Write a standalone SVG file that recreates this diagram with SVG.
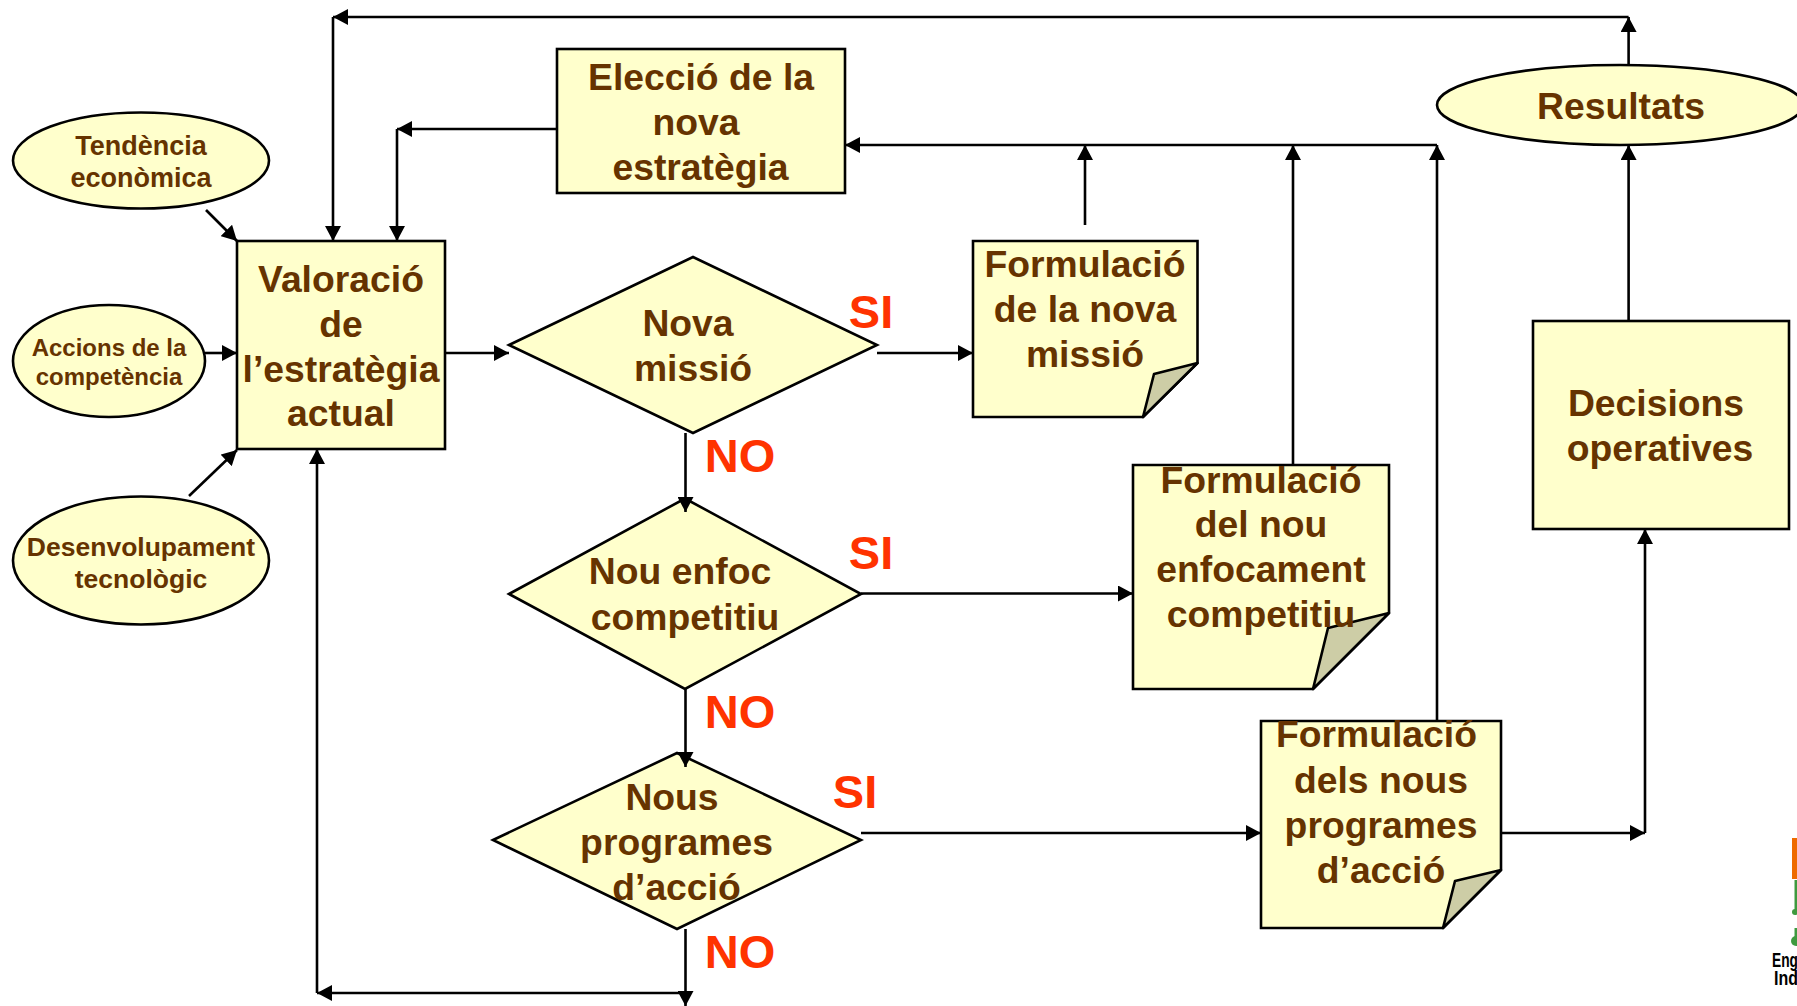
<svg xmlns="http://www.w3.org/2000/svg" width="1797" height="1006" viewBox="0 0 1797 1006">
<style>
.s{fill:#ffffcc;stroke:#000;stroke-width:2.6}
.f{fill:#cdcda6;stroke:#000;stroke-width:2.6;stroke-linejoin:round}
.c path{fill:none;stroke:#000;stroke-width:2.6;marker-end:url(#a)}
text{font-family:"Liberation Sans",Arial,sans-serif;font-weight:700;text-anchor:middle;fill:#663300}
.m{font-size:37.300px}.t{font-size:27px}.l{font-size:47px;fill:#ff3300}
</style>
<defs><marker id="a" markerUnits="userSpaceOnUse" markerWidth="16" markerHeight="16" refX="15" refY="8" orient="auto"><path d="M0 0L15 8L0 16Z" fill="#000"/></marker></defs>
<rect width="1797" height="1006" fill="#fff"/>
<g id="tendencia"><ellipse class="s" cx="141" cy="160.500" rx="128" ry="48"/><text class="t"><tspan x="141" y="155">Tendència</tspan><tspan x="141" y="187">econòmica</tspan></text></g>
<g id="accions"><ellipse class="s" cx="109" cy="361" rx="96" ry="56"/><text style="font-size:24px"><tspan x="109" y="356">Accions de la</tspan><tspan x="109" y="384.500">competència</tspan></text></g>
<g id="desenvolupament"><ellipse class="s" cx="141" cy="560.500" rx="128" ry="64"/><text style="font-size:26.500px"><tspan x="141" y="556">Desenvolupament</tspan><tspan x="141" y="588">tecnològic</tspan></text></g>
<g id="valoracio"><rect class="s" x="237" y="241" width="208" height="208"/><text class="m"><tspan x="341" y="292">Valoració</tspan><tspan x="341" y="336.500">de</tspan><tspan x="341" y="381.500">l’estratègia</tspan><tspan x="341" y="426">actual</tspan></text></g>
<g id="eleccio"><rect class="s" x="557" y="49" width="288" height="144"/><text class="m"><tspan x="701" y="90">Elecció de la</tspan><tspan x="696" y="135">nova</tspan><tspan x="700.500" y="180">estratègia</tspan></text></g>
<g id="resultats"><ellipse class="s" cx="1620" cy="105" rx="183" ry="40"/><text class="m" x="1621" y="119">Resultats</text></g>
<g id="nova-missio"><path class="s" d="M509 345L693 257L877 345L693 433Z"/><text class="m"><tspan x="688" y="336">Nova</tspan><tspan x="693" y="381">missió</tspan></text></g>
<g id="nou-enfoc"><path class="s" d="M509 594L685 498.500L861 594L685 689Z"/><text class="m"><tspan x="680" y="584">Nou enfoc</tspan><tspan x="685" y="629.500">competitiu</tspan></text></g>
<g id="nous-programes"><path class="s" d="M493 840L677 753L861 840L677 929Z"/><text class="m"><tspan x="672" y="810">Nous</tspan><tspan x="676.500" y="855">programes</tspan><tspan x="676.500" y="900">d’acció</tspan></text></g>
<g id="formulacio-missio"><path class="s" d="M973 241H1197.500V363L1143 417H973Z"/><path class="f" d="M1143 417L1154 374L1197.500 363Z"/><text class="m"><tspan x="1085" y="277">Formulació</tspan><tspan x="1085" y="322">de la nova</tspan><tspan x="1085" y="367">missió</tspan></text></g>
<g id="formulacio-enfocament"><path class="s" d="M1133 465H1389V613L1313 689H1133Z"/><path class="f" d="M1313 689L1328 628L1389 613Z"/><text class="m"><tspan x="1261" y="492.500">Formulació</tspan><tspan x="1261" y="537">del nou</tspan><tspan x="1261" y="581.500">enfocament</tspan><tspan x="1261" y="627">competitiu</tspan></text></g>
<g id="formulacio-programes"><path class="s" d="M1261 721H1501V870L1443 928H1261Z"/><path class="f" d="M1443 928L1455 881L1501 870Z"/><text class="m"><tspan x="1376.500" y="747">Formulació</tspan><tspan x="1381" y="793">dels nous</tspan><tspan x="1381" y="838">programes</tspan><tspan x="1381" y="883">d’acció</tspan></text></g>
<g id="decisions"><rect class="s" x="1533" y="321" width="256" height="208"/><text class="m"><tspan x="1656" y="416">Decisions</tspan><tspan x="1660" y="461">operatives</tspan></text></g>
<g id="connectors" class="c">
<path d="M1628.6 64V17"/><path d="M1628.6 17H333"/><path d="M333 17V241"/>
<path d="M557 129H397"/><path d="M397 129V241"/>
<path d="M1437 145H845"/><path d="M1085 225V145"/><path d="M1293 465V145"/><path d="M1437 721V145"/>
<path d="M1628.6 321V145"/>
<path d="M1501 833H1645"/><path d="M1645 833V529"/>
<path d="M877 353H973"/><path d="M861 593.500H1133"/><path d="M861 833H1261"/>
<path d="M445 353H509"/>
<path d="M685.500 433V512"/><path d="M685.500 689V767"/><path d="M685.500 929V1006"/>
<path d="M685.500 993H317"/><path d="M317 993V449"/>
<path d="M206 210L237 241"/><path d="M205 353H237"/><path d="M189 496L237 450"/>
</g>
<g id="labels">
<text class="l" x="871" y="328">SI</text><text class="l" x="871" y="569">SI</text><text class="l" x="855" y="808">SI</text>
<text class="l" x="740" y="472">NO</text><text class="l" x="740" y="728">NO</text><text class="l" x="740" y="968">NO</text>
</g>
<g id="logo">
<rect x="1792" y="838" width="5" height="41" fill="#ee6a00"/>
<path d="M1796 880V912M1796 928V938" stroke="#3f9a3f" stroke-width="3" fill="none"/>
<circle cx="1795" cy="912" r="3" fill="#3f9a3f"/><circle cx="1796" cy="941" r="5" fill="#3f9a3f"/>
<text x="1772" y="967" style="font-size:21px;text-anchor:start;fill:#000" textLength="26" lengthAdjust="spacingAndGlyphs">Eng</text>
<text x="1774" y="985" style="font-size:21px;text-anchor:start;fill:#000" textLength="24" lengthAdjust="spacingAndGlyphs">Ind</text>
</g>
</svg>
